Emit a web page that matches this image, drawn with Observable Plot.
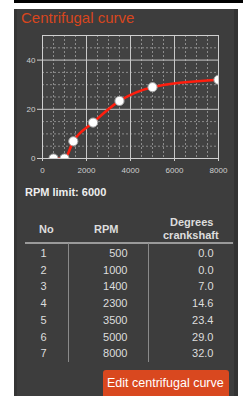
<!DOCTYPE html>
<html><head><meta charset="utf-8">
<script src="https://cdn.jsdelivr.net/npm/d3@7"></script>
<script src="https://cdn.jsdelivr.net/npm/@observablehq/plot@0.6"></script>
<style>
body{margin:0;background:#fff;width:248px;height:396px;overflow:hidden;position:relative;font-family:"Liberation Sans",Arial,sans-serif;}
#topbar{position:absolute;left:14px;top:0;width:229px;height:3px;background:#000;}
#panel{position:absolute;left:14px;top:9px;width:224px;height:387px;background:#3d3d3d;}
#edgeL{position:absolute;left:14px;top:9px;width:3px;height:387px;background:#353535;}
#edgeR{position:absolute;left:234px;top:9px;width:4px;height:387px;background:#333;}
#title{position:absolute;left:21px;top:9px;font-size:15px;color:#d8461e;line-height:18px;}
#chart{position:absolute;left:0;top:0;}
#limit{position:absolute;left:25px;top:186px;font-size:11px;font-weight:bold;color:#eee;}
.t{position:absolute;font-size:11px;color:#ddd;white-space:nowrap;}
.h{font-weight:bold;}
#hline{position:absolute;left:25px;top:242px;width:208px;height:1.5px;background:#9a9a9a;}
.vline{position:absolute;top:243px;width:1px;height:119px;background:#8a8a8a;}
#btn{position:absolute;left:103px;top:370px;width:126px;height:30px;background:#d9481f;border-radius:3px;color:#fff;font-size:12.5px;}
#btn span{position:absolute;left:4px;top:6px;}
</style></head>
<body>
<div id="topbar"></div>
<div id="panel"></div>
<div id="edgeL"></div>
<div id="edgeR"></div>
<div id="title">Centrifugal curve</div>
<div id="chart"></div>
<div id="limit">RPM limit: 6000</div>
<div id="table"></div>
<div id="btn"><span>Edit centrifugal curve</span></div>
<script>
const nos = [1, 2, 3, 4, 5, 6, 7];
const rpm = [500, 1000, 1400, 2300, 3500, 5000, 8000];
const degrees = [0.0, 0.0, 7.0, 14.6, 23.4, 29.0, 32.0];
const xTicks = [0, 2000, 4000, 6000, 8000];
const yTicks = [0, 20, 40];
const xMinor = [500, 1000, 1500, 2500, 3000, 3500, 4500, 5000, 5500, 6500, 7000, 7500];
const yMinor = [5, 10, 15, 25, 30, 35, 45];
const xMajor = [2000, 4000, 6000];
const yMajor = [20, 40];

const data = rpm.map((r, i) => ({rpm: r, deg: degrees[i]}));

const chart = Plot.plot({
  width: 248, height: 180,
  marginLeft: 42, marginRight: 30, marginTop: 35, marginBottom: 22,
  style: {background: "transparent", color: "#cfcfcf", fontFamily: "Liberation Sans, Arial, sans-serif", fontSize: "8px"},
  x: {domain: [0, 8000], ticks: xTicks, tickFormat: d => String(d), tickSize: 3, label: null},
  y: {domain: [0, 50], ticks: yTicks, tickFormat: d => String(d), tickSize: 5, tickPadding: 2, label: null},
  marks: [
    Plot.frame({fill: "#424242", stroke: null}),
    Plot.ruleX(xMinor, {stroke: "#8c8c8c", strokeDasharray: "2,2", strokeWidth: 1}),
    Plot.ruleY(yMinor, {stroke: "#8c8c8c", strokeDasharray: "2,2", strokeWidth: 1}),
    Plot.ruleX(xMajor, {stroke: "#c8c8c8", strokeWidth: 1}),
    Plot.ruleY(yMajor, {stroke: "#c8c8c8", strokeWidth: 1}),
    Plot.frame({stroke: "#cfcfcf", strokeWidth: 1}),
    Plot.axisX({ticks: xTicks, tickFormat: d => String(d), tickSize: 3, stroke: "#cfcfcf", fill: "#cfcfcf", label: null}),
    Plot.axisY({ticks: yTicks, tickFormat: d => String(d), tickSize: 5, tickPadding: 2, stroke: "#cfcfcf", fill: "#cfcfcf", label: null}),
    Plot.line(data, {x: "rpm", y: "deg", stroke: "#ff1e0e", strokeWidth: 2.6, curve: "monotone-x", clip: true}),
    Plot.dot(data, {x: "rpm", y: "deg", r: 4.6, fill: "#ffffff", stroke: "#a0a0a0", strokeWidth: 1, clip: true})
  ]
});
document.getElementById("chart").appendChild(chart);

// table
const tbl = document.getElementById("table");
function add(text, cls, style) {
  const d = document.createElement("div");
  d.className = cls;
  d.textContent = text;
  Object.assign(d.style, style);
  tbl.appendChild(d);
  return d;
}
add("No", "t h", {left: "39px", top: "223px"});
add("RPM", "t h", {left: "94px", top: "223px"});
add("Degrees", "t h", {left: "170px", top: "216px"});
add("crankshaft", "t h", {left: "163px", top: "229px"});
const hl = document.createElement("div"); hl.id = "hline"; tbl.appendChild(hl);
[68, 148].forEach(x => { const v = document.createElement("div"); v.className = "vline"; v.style.left = x + "px"; tbl.appendChild(v); });
nos.forEach((n, i) => {
  const top = 247 + i * 16.7;
  add(String(n), "t", {left: "40.5px", top: top + "px"});
  add(String(rpm[i]), "t", {right: (248 - 127.5) + "px", top: top + "px"});
  add(degrees[i].toFixed(1), "t", {right: (248 - 213.5) + "px", top: top + "px"});
});
</script>
</body></html>
